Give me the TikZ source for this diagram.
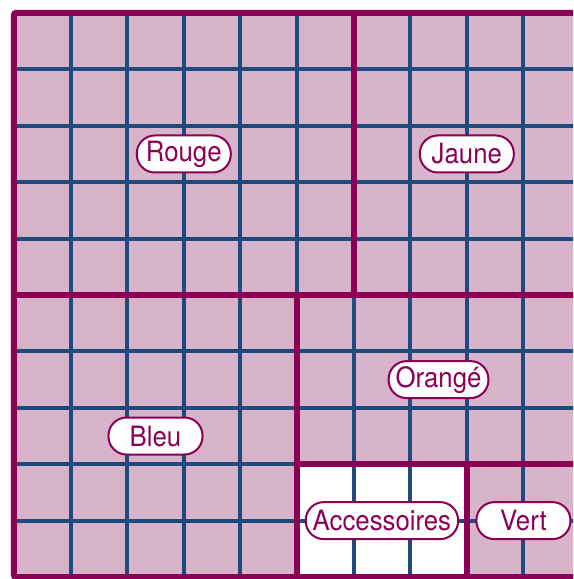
\documentclass[tikz,border=0pt]{standalone}
\usepackage{fontspec}
\setmainfont{TeX Gyre Heros}[FakeStretch=0.92]
\definecolor{prune}{RGB}{139,0,85}
\definecolor{mauve}{RGB}{216,180,202}
\definecolor{marine}{RGB}{31,74,126}
\tikzset{
  grille/.style={draw=marine, line width=4pt},
  zone/.style={draw=prune, line width=6pt},
  etiquette/.style={rectangle, rounded corners=18pt, draw=prune, line width=2pt,
    fill=white, text=prune, font=\fontsize{28}{30}\selectfont,
    minimum width=94pt, minimum height=37pt, inner xsep=7pt, inner ysep=2pt}
}
\begin{document}
\begin{tikzpicture}[x=56.6pt, y=-56.4pt]
  \useasboundingbox (-0.247,-0.23) rectangle (9.876,10.035);
  \clip (-0.247,-0.23) rectangle (9.876,10.035);
  % fond
  \fill[mauve] (0,0) rectangle (10,10);
  \fill[white] (5,8) rectangle (8,10);
  % quadrillage
  \foreach \i in {1,...,10} {
    \draw[grille] (\i,0) -- (\i,10);
    \draw[grille] (0,\i) -- (10,\i);
  }
  % limites des zones
  \draw[zone, rounded corners=2pt] (10,0) -- (0,0) -- (0,10) -- (10,10);
  \draw[zone] (6,0) -- (6,5);
  \draw[zone] (0,5) -- (10,5);
  \draw[zone] (5,5) -- (5,10);
  \draw[zone] (5,8) -- (10,8);
  \draw[zone] (8,8) -- (8,10);
  % noms des zones
  \node[etiquette] (rouge) at (3,2.5) {Rouge};
  \node[etiquette] (jaune) at (8,2.5) {Jaune};
  \node[etiquette] (orange) at (7.5,6.5) {Orangé};
  \node[etiquette] (bleu) at (2.5,7.5) {Bleu};
  \node[etiquette] (accessoires) at (6.5,9) {Accessoires};
  \node[etiquette] (vert) at (9,9) {Vert};
\end{tikzpicture}
\end{document}
